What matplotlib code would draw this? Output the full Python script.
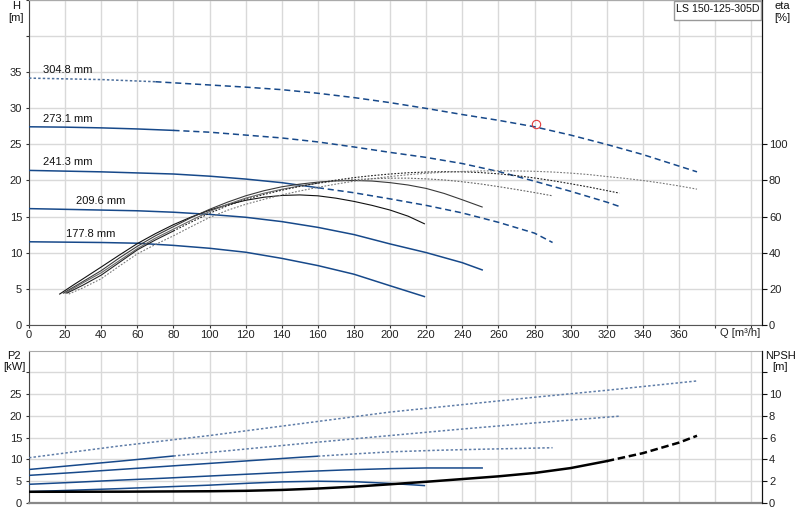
import matplotlib
matplotlib.use("Agg")
import matplotlib.pyplot as plt
from matplotlib.patches import Rectangle
import numpy as np

plt.rcParams["font.family"] = ["Liberation Sans", "DejaVu Sans"]
plt.rcParams["font.size"] = 8

# impeller diameters, smallest first
diameters = ["177.8 mm", "209.6 mm", "241.3 mm", "273.1 mm", "304.8 mm"]

# head curves, H [m] over Q [m3/h]
head_q = [
    [0, 20, 40, 60, 80, 100, 120, 140, 160, 180, 200, 219],
    [0, 20, 40, 60, 80, 100, 120, 140, 160, 180, 200, 220, 240, 251],
    [0, 20, 40, 60, 80, 100, 120, 140, 160, 180, 200, 220, 240, 260, 280, 290],
    [0, 20, 40, 60, 80, 100, 120, 140, 160, 180, 200, 220, 240, 260, 280, 300, 320, 327],
    [0, 20, 40, 70, 100, 120, 140, 160, 180, 200, 220, 240, 260, 280, 300, 320, 340, 360, 370],
]
head_h = [
    [11.5, 11.45, 11.4, 11.3, 11.0, 10.6, 10.05, 9.2, 8.2, 7.0, 5.4, 3.9],
    [16.1, 16.0, 15.9, 15.8, 15.6, 15.3, 14.9, 14.3, 13.5, 12.5, 11.2, 10.0, 8.6, 7.6],
    [21.4, 21.3, 21.2, 21.05, 20.9, 20.6, 20.2, 19.7, 19.0, 18.3, 17.45, 16.55, 15.5, 14.2, 12.7, 11.4],
    [27.45, 27.4, 27.3, 27.15, 26.95, 26.7, 26.3, 25.9, 25.35, 24.65, 23.9, 23.2, 22.35, 21.25, 19.9, 18.5, 17.0, 16.4],
    [34.2, 34.1, 34.0, 33.7, 33.25, 32.95, 32.6, 32.1, 31.5, 30.8, 30.0, 29.15, 28.35, 27.45, 26.3, 25.0, 23.6, 22.0, 21.2],
]

# efficiency curves, eta [%]
eta_q = [
    [17, 25, 30, 40, 50, 60, 70, 80, 90, 100, 110, 120, 130, 140, 150, 160, 170, 180, 190, 200, 210, 219],
    [19, 30, 40, 50, 60, 70, 80, 90, 100, 110, 120, 130, 140, 150, 160, 170, 180, 190, 200, 210, 220,
     230, 240, 251],
    [20, 30, 40, 50, 60, 70, 80, 90, 100, 110, 120, 130, 140, 150, 160, 170, 180, 190, 200, 210, 220,
     230, 240, 250, 260, 270, 280, 290],
    [21, 30, 40, 50, 60, 70, 80, 90, 100, 110, 120, 130, 140, 150, 160, 170, 180, 190, 200, 210, 220,
     230, 240, 250, 260, 270, 280, 290, 300, 310, 320, 327],
    [22, 30, 40, 50, 60, 70, 80, 90, 100, 110, 120, 130, 140, 150, 160, 170, 180, 190, 200, 210, 220,
     230, 240, 250, 260, 270, 280, 290, 300, 310, 320, 330, 340, 350, 360, 370],
]
eta_v = [
    [17, 22.3, 25.5, 32, 38.6, 45, 50.5, 55.5, 59.8, 63.5, 66.6, 69, 70.7, 71.7, 72, 71.5, 70.2, 68.4,
     66.2, 63.6, 60.2, 56],
    [17.5, 24, 30, 37, 43.5, 49.3, 54.4, 59.5, 64, 68, 71.5, 74.3, 76.5, 78, 79.1, 79.8, 80, 79.7, 78.8,
     77.5, 75.6, 72.8, 69.3, 65.3],
    [17.5, 23.3, 28.8, 35.5, 42.2, 48, 53, 58, 62.8, 66.8, 70.2, 72.9, 75.1, 77, 78.5, 79.7, 80.5, 81,
     81.3, 81.3, 80.9, 80.3, 79.3, 78.1, 76.6, 75, 73.3, 71.5],
    [17.5, 22, 27.5, 34.5, 41.5, 47, 52, 57, 61.8, 66, 69.5, 72.2, 74.6, 76.7, 78.6, 80.2, 81.6, 82.7,
     83.6, 84.3, 84.7, 84.9, 84.8, 84.4, 83.7, 82.7, 81.4, 79.9, 78.2, 76.4, 74.4, 73],
    [17, 20.5, 25.5, 32.5, 39.3, 44.5, 49.3, 54.5, 59.5, 63.5, 66.8, 69.5, 72, 74.2, 76.2, 78, 79.6, 81,
     82.2, 83.2, 84, 84.6, 85, 85.3, 85.4, 85.3, 85.1, 84.7, 84.1, 83.3, 82.2, 81.2, 80, 78.6, 77, 75.2],
]

# shaft power P2 [kW]
p2_q = [
    [0, 25, 50, 75, 100, 122, 140, 160, 180, 200, 219],
    [0, 25, 50, 75, 100, 125, 150, 175, 200, 220, 251],
    [0, 25, 50, 75, 100, 125, 150, 160, 175, 200, 225, 250, 290],
    [0, 50, 80, 100, 150, 200, 240, 280, 327],
    [0, 50, 100, 150, 200, 240, 280, 320, 370],
]
p2_v = [
    [2.6, 2.95, 3.3, 3.7, 4.1, 4.55, 4.85, 5.0, 4.9, 4.5, 4.0],
    [4.3, 4.75, 5.25, 5.7, 6.2, 6.7, 7.2, 7.6, 7.9, 8.05, 8.05],
    [6.35, 7.0, 7.7, 8.4, 9.1, 9.8, 10.5, 10.75, 11.15, 11.75, 12.1, 12.35, 12.7],
    [7.7, 9.6, 10.8, 11.6, 13.6, 15.5, 17.0, 18.4, 19.95],
    [10.4, 13.1, 15.5, 18.2, 20.9, 22.6, 24.3, 25.9, 28.05],
]

# flow where each curve leaves its allowed range (solid -> broken)
range_limit = [219, 251, 160, 80, 0]

# NPSH [m]
npsh_q = [0, 50, 100, 120, 140, 160, 180, 200, 220, 240, 260, 280, 300, 320, 340, 360, 370]
npsh_v = [1.03, 1.04, 1.08, 1.12, 1.2, 1.33, 1.5, 1.72, 1.95, 2.2, 2.45, 2.76, 3.21, 3.85, 4.58, 5.55, 6.18]
npsh_limit = 320

duty_q = [281]
duty_h = [27.9]

pump_name = "LS 150-125-305D"

BLUE = "#17498a"
P2_DOT = "#5f7da8"
GRID = "#d9d9d9"
DASH = (0, (4, 2.5))
DOT = (0, (1.6, 1.4))


def plot_split(ax, q, v, limit, color, lw, out_style, solid_style="-", out_color=None):
    q = np.asarray(q, dtype=float)
    v = np.asarray(v, dtype=float)
    inside = q <= limit
    outside = q >= limit
    if inside.sum() > 1:
        ax.plot(q[inside], v[inside], color=color, lw=lw, ls=solid_style, zorder=3)
    if outside.sum() > 1:
        ax.plot(q[outside], v[outside], color=out_color or color, lw=lw, ls=out_style, zorder=3)


def style_axes(ax, bottom_color):
    ax.set_facecolor("white")
    ax.spines["left"].set_color("#444444")
    ax.spines["bottom"].set_color(bottom_color)
    ax.spines["right"].set_color("#111111")
    ax.spines["top"].set_color("#aaaaaa")
    ax.grid(True, color=GRID, lw=1.0, zorder=0)
    ax.set_axisbelow(True)


def right_axis(ax, top, ticks, last_label):
    twin = ax.twinx()
    twin.set_ylim(0, top)
    twin.set_yticks(ticks)
    twin.set_yticklabels([str(t) if t <= last_label else "" for t in ticks])
    twin.tick_params(axis="y", length=3.5, pad=1.5, colors="#111111", labelcolor="#222222")
    for side in ("left", "top", "bottom"):
        twin.spines[side].set_visible(False)
    twin.spines["right"].set_color("#111111")
    return twin


fig = plt.figure(figsize=(8, 5.2), dpi=100)
ax_h = fig.add_axes([29 / 800, 0.3756, 733 / 800, 0.6239])
ax_p = fig.add_axes([29 / 800, 0.0327, 733 / 800, 0.2929])

# --- head / efficiency panel
style_axes(ax_h, "#555555")
ax_h.set_xlim(0, 406)
ax_h.set_ylim(0, 45)
ax_h.set_xticks(np.arange(0, 401, 20))
ax_h.set_xticklabels([str(v) if v <= 360 else "" for v in range(0, 401, 20)])
ax_h.set_yticks(np.arange(0, 46, 5))
ax_h.set_yticklabels([str(v) if v <= 35 else "" for v in range(0, 46, 5)])
ax_h.tick_params(axis="x", length=2.5, pad=1.5, colors="#333333", labelcolor="#222222")
ax_h.tick_params(axis="y", length=2.5, pad=2.5, colors="#333333", labelcolor="#222222")

ax_eta = right_axis(ax_h, 180, list(range(0, 101, 20)), 100)

for i, name in enumerate(diameters):
    if i == 4:
        plot_split(ax_h, head_q[i], head_h[i], 70, "#4d6f9c", 1.1, DASH, solid_style=DOT, out_color=BLUE)
    else:
        plot_split(ax_h, head_q[i], head_h[i], range_limit[i], BLUE, 1.1, DASH)

eta_colors = ["#111111", "#3a3a3a", "#666666", "#222222", "#7a7a7a"]
for i in range(len(diameters)):
    plot_split(ax_eta, eta_q[i], eta_v[i], range_limit[i], eta_colors[i], 0.8, DOT)

label_q = [20.5, 26, 7.8, 7.8, 7.8]
for i, name in enumerate(diameters):
    ax_h.text(label_q[i], head_h[i][0] + 1.1, name, fontsize=8, color="#111111",
              va="center", ha="left", zorder=4)

ax_h.plot(duty_q, duty_h, "o", mfc="none", mec="#e23c3c", mew=0.8, ms=6, zorder=5)

ax_h.text(394, -0.025, "Q [m\u00b3/h]", transform=ax_h.get_xaxis_transform(),
          ha="center", va="center", fontsize=8, color="#222222")

# --- power / NPSH panel
style_axes(ax_p, "#888888")
ax_p.spines["bottom"].set_linewidth(1.6)
ax_p.set_xlim(0, 406)
ax_p.set_ylim(0, 35)
ax_p.set_xticks(np.arange(0, 401, 20))
ax_p.set_xticklabels([])
ax_p.tick_params(axis="x", length=0)
ax_p.set_yticks(np.arange(0, 31, 5))
ax_p.set_yticklabels([str(v) if v <= 25 else "" for v in range(0, 31, 5)])
ax_p.tick_params(axis="y", length=2.5, pad=2.5, colors="#333333", labelcolor="#222222")

ax_n = right_axis(ax_p, 14, list(range(0, 13, 2)), 10)

for i in range(len(diameters)):
    plot_split(ax_p, p2_q[i], p2_v[i], range_limit[i], BLUE, 1.1, DOT, out_color=P2_DOT)

plot_split(ax_n, npsh_q, npsh_v, npsh_limit, "#000000", 1.8, (0, (3, 1.5)))

# --- axis captions
captions = [
    (16, 6, "H"), (16, 18, "[m]"), (782, 6, "eta"), (782, 18, "[%]"),
    (14, 356, "P2"), (14, 367, "[kW]"), (780, 356, "NPSH"), (780, 367, "[m]"),
]
for px, py, txt in captions:
    fig.text(px / 800, 1 - py / 520, txt, ha="center", va="center", fontsize=8, color="#111111")

fig.patches.append(Rectangle((674 / 800, 1 - 20 / 520), 87 / 800, 19.5 / 520,
                             transform=fig.transFigure, facecolor="white",
                             edgecolor="#999999", lw=1.0, zorder=6))
fig.text(718 / 800, 1 - 9.5 / 520, pump_name, ha="center", va="center",
         fontsize=7.7, color="#111111", zorder=7)

fig.savefig("out.png", dpi=100)
